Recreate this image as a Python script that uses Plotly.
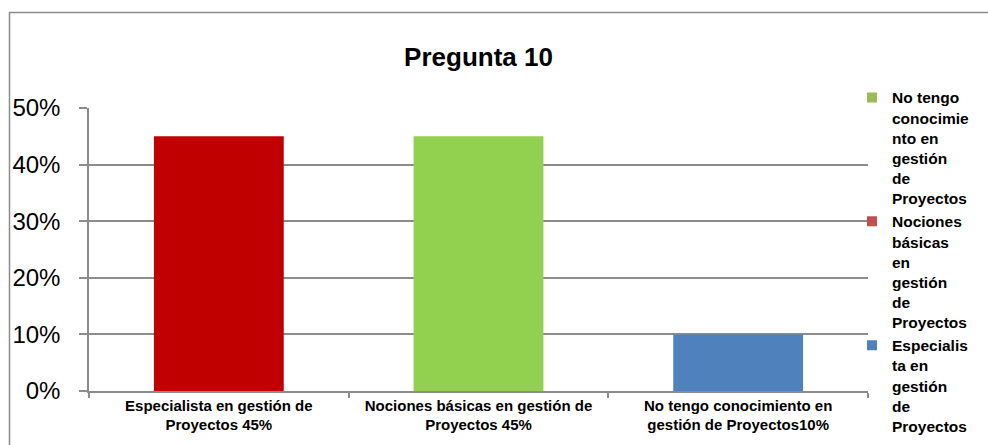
import plotly.graph_objects as go

categories = [
    "Especialista en gestión de<br>Proyectos 45%",
    "Nociones básicas en gestión de<br>Proyectos 45%",
    "No tengo conocimiento en<br>gestión de Proyectos10%",
]
values = [0.45, 0.45, 0.10]
bar_colors = ["#C00000", "#92D050", "#4F81BD"]

legend_names = [
    "No tengo<br>conocimie<br>nto en<br>gestión<br>de<br>Proyectos",
    "Nociones<br>básicas<br>en<br>gestión<br>de<br>Proyectos",
    "Especialis<br>ta en<br>gestión<br>de<br>Proyectos",
]
legend_colors = ["#9BBB59", "#C0504D", "#4F81BD"]

y_ticks = [0, 0.1, 0.2, 0.3, 0.4, 0.5]
y_ticktext = ["0%", "10%", "20%", "30%", "40%", "50%"]

W, H = 988, 445
ML, MR, MT, MB = 89, 120, 108, 45
pw = W - ML - MR
ph = H - MT - MB

fig = go.Figure()
fig.add_trace(go.Bar(
    x=categories, y=values, marker=dict(color=bar_colors, line=dict(width=0)),
    width=0.5, showlegend=False,
))
for name, col in zip(legend_names, legend_colors):
    fig.add_trace(go.Scatter(
        x=[None], y=[None], mode="markers", name=name,
        marker=dict(symbol="square", size=10, color=col),
    ))

grid = "#8C8C8C"
fig.update_layout(
    width=W, height=H,
    margin=dict(l=ML, r=MR, t=MT, b=MB, pad=0),
    paper_bgcolor="white", plot_bgcolor="white",
    font=dict(family="Liberation Sans, Arial", color="black"),
    title=dict(
        text="<b>Pregunta 10</b>", font=dict(size=26, color="black"),
        x=0.5, xref="paper", xanchor="center",
        y=1 - 57 / H, yref="container", yanchor="middle",
    ),
    showlegend=True,
    legend=dict(
        x=(852 - ML) / pw, xanchor="left",
        y=(H - MB - 80) / ph, yanchor="top",
        font=dict(size=15.5, color="black", family="Liberation Sans, Arial", weight="bold"),
        bgcolor="rgba(0,0,0,0)", valign="top", tracegroupgap=0,
        itemwidth=30, maxheight=420,
    ),
    xaxis=dict(
        type="category", showgrid=False, showline=True, linecolor=grid, linewidth=1.5,
        ticks="outside", tickson="boundaries", ticklen=5, tickcolor=grid, tickwidth=1.5,
        tickfont=dict(size=15, family="Liberation Sans, Arial", weight="bold"),
        range=[-0.5, 2.5], fixedrange=True,
    ),
    yaxis=dict(
        range=[0, 0.5], tickvals=y_ticks, ticktext=y_ticktext,
        showgrid=True, gridcolor=grid, gridwidth=1.5,
        showline=True, linecolor=grid, linewidth=1.5,
        ticks="outside", ticklen=8, tickcolor=grid, tickwidth=1.5,
        tickfont=dict(size=24, family="Liberation Sans, Arial"),
        ticklabelstandoff=14, zeroline=False,
    ),
    shapes=[dict(
        type="rect", xref="paper", yref="paper",
        x0=(9.5 - ML) / pw, x1=(1100 - ML) / pw,
        y0=(H - MB - 600) / ph, y1=(H - MB - 9.5) / ph,
        line=dict(color="#8C8C8C", width=1.5), fillcolor="rgba(0,0,0,0)", layer="below",
    )],
)

fig.write_html("out.html")
